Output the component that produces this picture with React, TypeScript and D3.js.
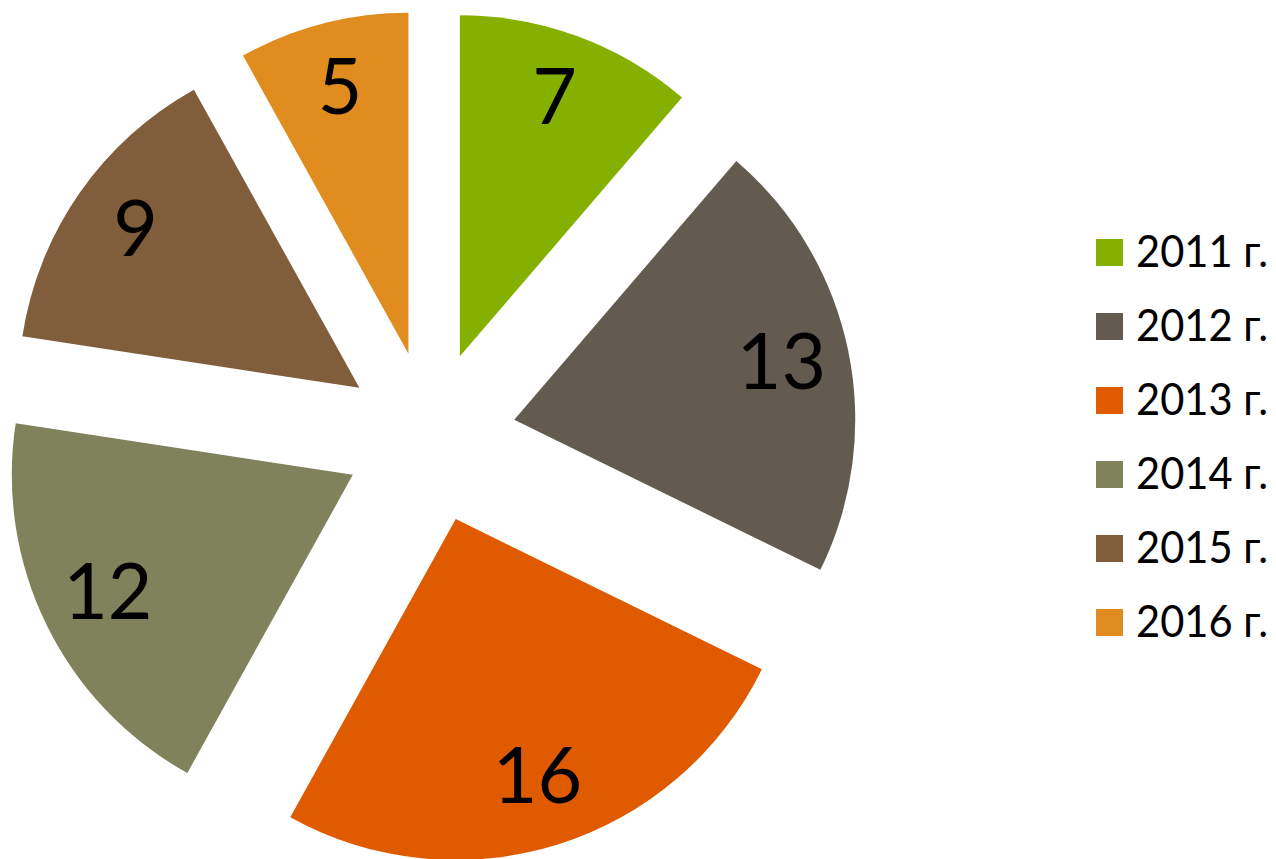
import * as d3 from 'd3'

const years = ['2011 г.', '2012 г.', '2013 г.', '2014 г.', '2015 г.', '2016 г.']
const counts = [7, 13, 16, 12, 9, 5]
const colors = ['#86B000', '#635B4F', '#E05A00', '#7F825A', '#805E3B', '#E08C1E']

const width = 1276
const height = 859
const cx = 430
const cy = 437
const radius = 341
const explode = 86
const font = 'Lato, Carlito, Calibri, sans-serif'

const App = () => {
  const slices = d3
    .pie<number>()
    .sort(null)
    .value(d => d)(counts)

  const arc = d3.arc<d3.PieArcDatum<number>>().innerRadius(0).outerRadius(radius)
  const labelArc = d3
    .arc<d3.PieArcDatum<number>>()
    .innerRadius(radius * 0.8)
    .outerRadius(radius * 0.8)

  const color = d3.scaleOrdinal<string, string>().domain(years).range(colors)

  const legendY = d3
    .scalePoint<string>()
    .domain(years)
    .range([252.5, 252.5 + 74 * (years.length - 1)])

  const labelSize = 77
  const legendSize = 45

  return (
    <svg
      width={width}
      height={height}
      style={{ position: 'absolute', left: 0, top: 0, background: '#fff' }}
    >
      <g transform={`translate(${cx}, ${cy})`}>
        {slices.map((s, i) => {
          const mid = (s.startAngle + s.endAngle) / 2
          const dx = Math.sin(mid) * explode
          const dy = -Math.cos(mid) * explode
          const [lx, ly] = labelArc.centroid(s)
          return (
            <g key={i} transform={`translate(${dx}, ${dy})`}>
              <path d={arc(s) ?? ''} fill={color(years[i])} />
              <text
                x={lx}
                y={ly + labelSize * 0.31}
                textAnchor="middle"
                fontFamily={font}
                fontSize={labelSize}
                fill="#000"
              >
                {counts[i]}
              </text>
            </g>
          )
        })}
      </g>
      {years.map(y => (
        <g key={y} transform={`translate(1096, ${legendY(y)})`}>
          <rect x={0} y={-13.5} width={27} height={27} fill={color(y)} />
          <text
            x={40}
            y={14.5}
            fontFamily={font}
            fontSize={legendSize}
            textLength={132}
            lengthAdjust="spacingAndGlyphs"
            fill="#000"
          >
            {y}
          </text>
        </g>
      ))}
    </svg>
  )
}

export default App
